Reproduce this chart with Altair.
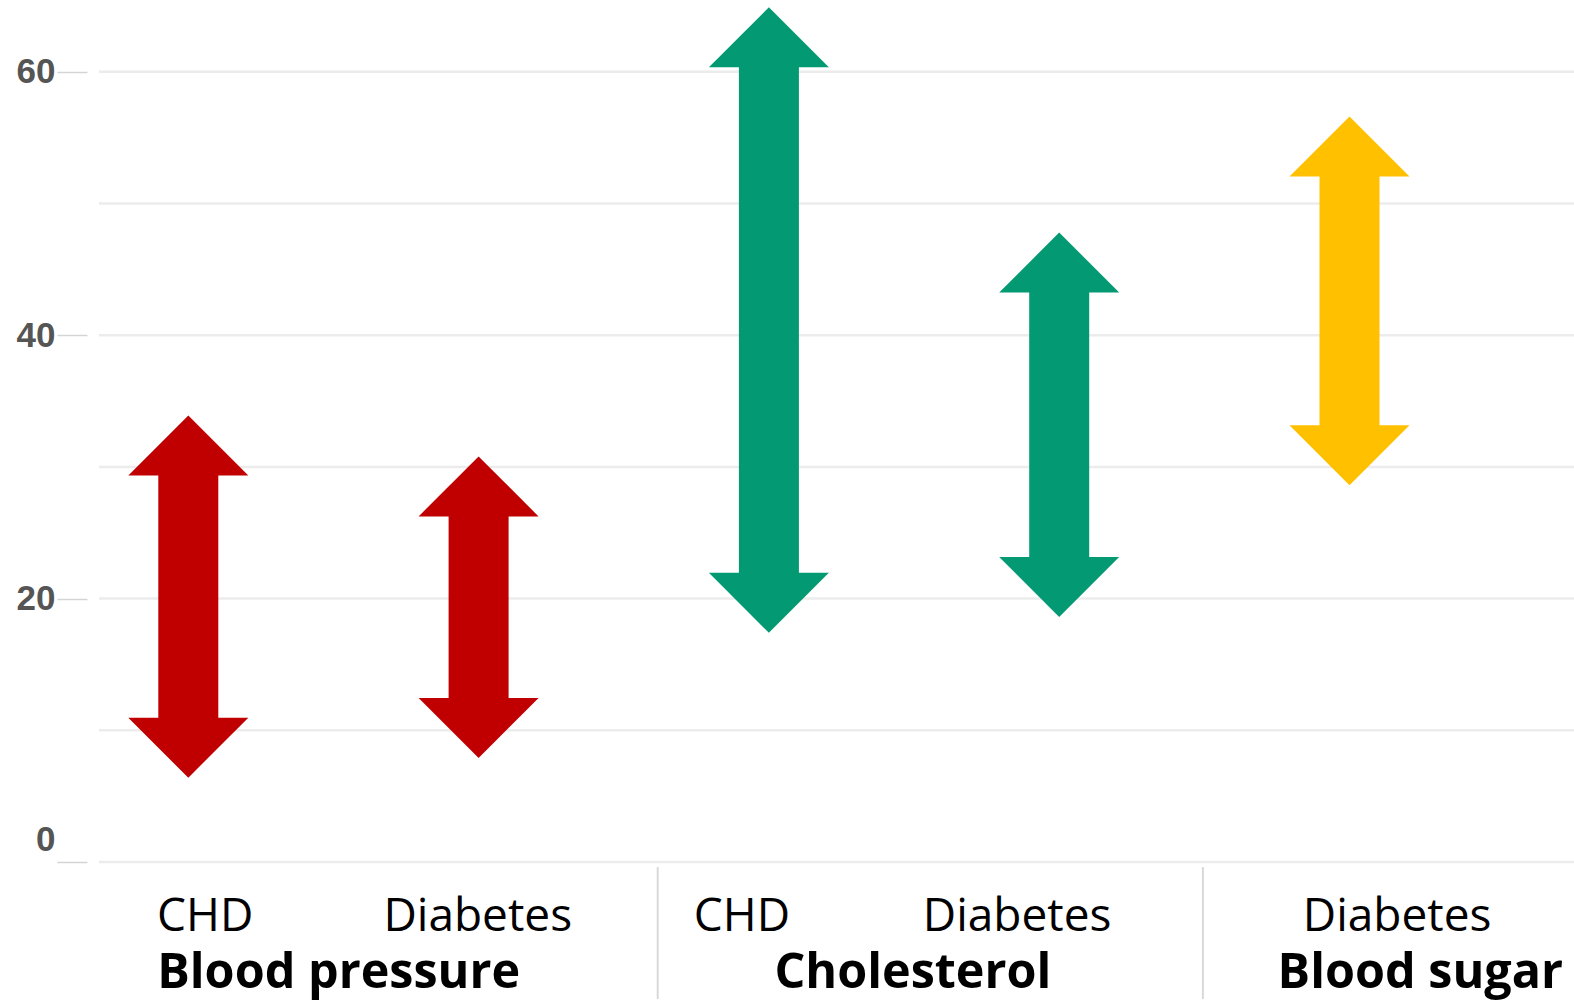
import altair as alt
import pandas as pd

# ---- data ----
groups = ["Blood pressure", "Blood pressure", "Cholesterol", "Cholesterol", "Blood sugar"]
conditions = ["CHD", "Diabetes", "CHD", "Diabetes", "Diabetes"]
low_values = [6.4, 7.9, 17.4, 18.6, 28.6]
high_values = [33.9, 30.8, 64.9, 47.8, 56.6]

group_names = ["Blood pressure", "Cholesterol", "Blood sugar"]
group_colors = ["#C00000", "#039A73", "#FFC000"]

grid_values = [0, 10, 20, 30, 40, 50, 60]
tick_values = [0, 20, 40, 60]

# label / separator placement in slot units (slot i = arrow i)
condition_label_slots = [0.058, 0.997, 1.907, 2.855, 4.164]
group_label_slots = [0.518, 2.496, 4.244]
separator_slots = [1.617, 3.495]

W, H = 1475, 856

arrows = pd.DataFrame({
    "slot": list(range(len(groups))),
    "group": groups,
    "condition": conditions,
    "low": low_values,
    "high": high_values,
})
grid_df = pd.DataFrame({"v": grid_values})
cond_df = pd.DataFrame({"slot": condition_label_slots, "label": conditions})
group_df = pd.DataFrame({"slot": group_label_slots, "label": group_names})
sep_df = pd.DataFrame({"slot": separator_slots})

xscale = alt.Scale(domain=[-0.3076, 4.7733], nice=False, zero=False)
yscale = alt.Scale(domain=[0, 65], nice=False, zero=False)
yaxis = alt.Axis(
    values=tick_values, grid=False, domain=False, offset=12, tickSize=30,
    tickColor="#d4d4d4", tickWidth=1.5, labelPadding=2,
    labelFont="Liberation Sans", labelFontSize=35, labelFontWeight="bold",
    labelColor="#555555", labelFlush=True, labelFlushOffset=-5, title=None,
)
color = alt.Color("group:N", scale=alt.Scale(domain=group_names, range=group_colors), legend=None)

grid = alt.Chart(grid_df).mark_rule(color="#ececec", strokeWidth=2.5).encode(
    y=alt.Y("v:Q", scale=yscale, axis=yaxis),
    x=alt.value(0), x2=alt.value(W),
)

shafts = alt.Chart(arrows).mark_rule(strokeWidth=60, strokeCap="butt", yOffset=58, y2Offset=-58).encode(
    x=alt.X("slot:Q", scale=xscale, axis=None),
    y=alt.Y("high:Q", scale=yscale, axis=yaxis),
    y2="low:Q",
    color=color,
)

up_heads = alt.Chart(arrows).mark_point(
    shape="M0,0L1,1L-1,1Z", size=14400, filled=True, opacity=1, strokeWidth=0
).encode(
    x=alt.X("slot:Q", scale=xscale, axis=None),
    y=alt.Y("high:Q", scale=yscale, axis=yaxis),
    color=color,
)

down_heads = alt.Chart(arrows).mark_point(
    shape="M0,0L1,-1L-1,-1Z", size=14400, filled=True, opacity=1, strokeWidth=0
).encode(
    x=alt.X("slot:Q", scale=xscale, axis=None),
    y=alt.Y("low:Q", scale=yscale, axis=yaxis),
    color=color,
)

cond_text = alt.Chart(cond_df).mark_text(
    font="Open Sans", fontSize=46, color="#000000", baseline="middle", align="center"
).encode(
    x=alt.X("slot:Q", scale=xscale, axis=None),
    y=alt.value(H + 54.5),
    text="label:N",
)

group_text = alt.Chart(group_df).mark_text(
    font="Open Sans", fontSize=48.5, fontWeight="bold", color="#000000", baseline="middle", align="center"
).encode(
    x=alt.X("slot:Q", scale=xscale, axis=None),
    y=alt.value(H + 111),
    text="label:N",
)

separators = alt.Chart(sep_df).mark_rule(color="#d9d9d9", strokeWidth=2).encode(
    x=alt.X("slot:Q", scale=xscale, axis=None),
    y=alt.value(H + 5),
    y2=alt.value(H + 137),
)

chart = alt.layer(grid, shafts, up_heads, down_heads, cond_text, group_text, separators).properties(
    width=W, height=H,
    autosize=alt.AutoSizeParams(type="none"),
    padding={"left": 99, "top": 6, "right": 0, "bottom": 139},
    background="#ffffff",
).configure_view(stroke=None)

chart.save("out.html", embed_options={"renderer": "svg", "actions": False})
